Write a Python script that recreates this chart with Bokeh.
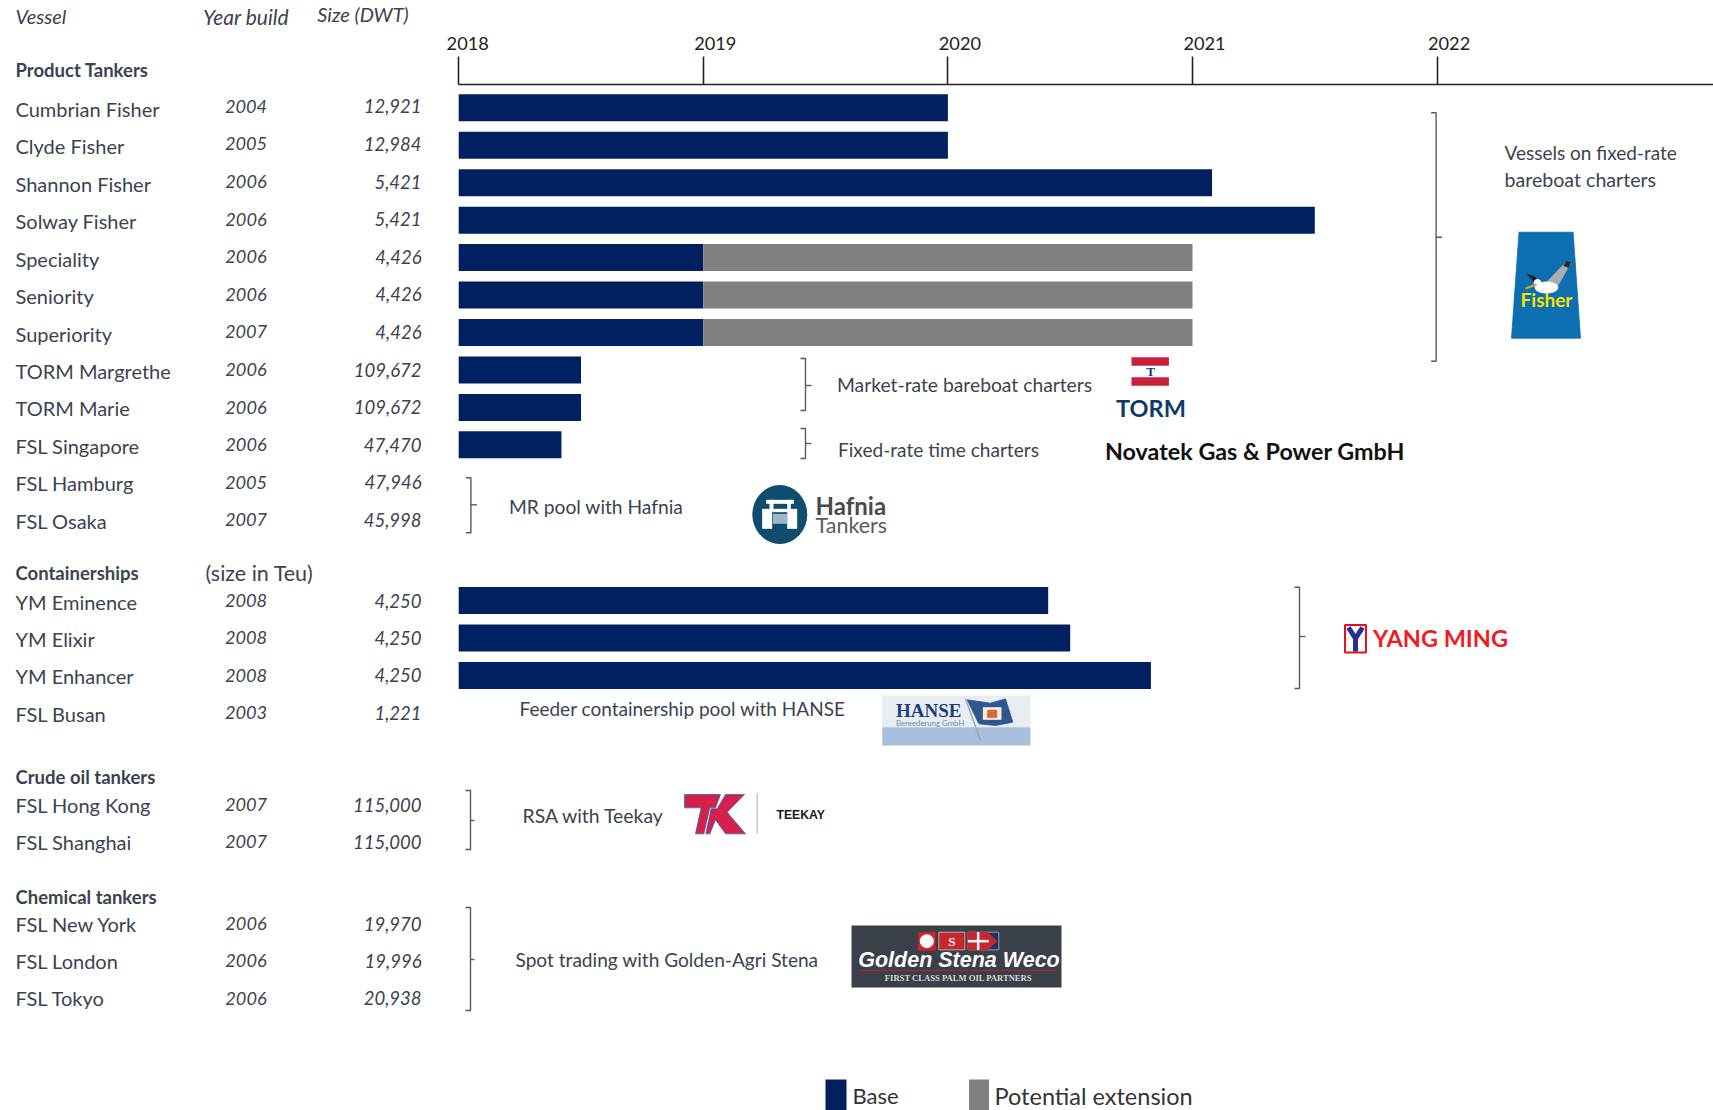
from bokeh.embed import file_html
from bokeh.models import ColumnDataSource, FixedTicker, LinearAxis, Range1d
from bokeh.plotting import figure
from bokeh.resources import INLINE
from bokeh.core.properties import value

# Fleet table
product_names = ["Cumbrian Fisher", "Clyde Fisher", "Shannon Fisher", "Solway Fisher", "Speciality",
                 "Seniority", "Superiority", "TORM Margrethe", "TORM Marie", "FSL Singapore",
                 "FSL Hamburg", "FSL Osaka"]
product_years = ["2004", "2005", "2006", "2006", "2006", "2006", "2007", "2006", "2006", "2006", "2005", "2007"]
product_sizes = ["12,921", "12,984", "5,421", "5,421", "4,426", "4,426", "4,426",
                 "109,672", "109,672", "47,470", "47,946", "45,998"]
container_names = ["YM Eminence", "YM Elixir", "YM Enhancer", "FSL Busan"]
container_years = ["2008", "2008", "2008", "2003"]
container_sizes = ["4,250", "4,250", "4,250", "1,221"]
crude_names = ["FSL Hong Kong", "FSL Shanghai"]
crude_years = ["2007", "2007"]
crude_sizes = ["115,000", "115,000"]
chemical_names = ["FSL New York", "FSL London", "FSL Tokyo"]
chemical_years = ["2006", "2006", "2006"]
chemical_sizes = ["19,970", "19,996", "20,938"]

# Charter periods, in decimal years
product_base_end = [2020.0, 2020.0, 2021.08, 2021.5, 2019.0, 2019.0, 2019.0, 2018.5, 2018.5, 2018.42]
extension_rows = ["Speciality", "Seniority", "Superiority"]
extension_end = [2021.0, 2021.0, 2021.0]
container_base_end = [2020.41, 2020.5, 2020.83]
tick_years = [2018, 2019, 2020, 2021, 2022]

NAVY = "#002060"
GREY = "#808080"
INK = "#3a4350"
FONT = "Lato"

W, H = 1713, 1110
X_2018, PX_PER_YEAR = 458.2, 244.6
ROW = 37.45
PAGE = "page"

p = figure(width=W, height=H, output_backend="svg", toolbar_location=None, min_border=0,
           x_axis_location=None, y_axis_location=None, outline_line_color=None,
           x_range=Range1d(2018 - X_2018 / PX_PER_YEAR, 2018 + (W - X_2018) / PX_PER_YEAR),
           y_range=Range1d(H, 0), background_fill_color="white", border_fill_color="white")
p.grid.visible = False
p.extra_x_ranges[PAGE] = Range1d(0, W)


def label(x, y, s, size=19, color=INK, align="left", style="normal", font=FONT):
    p.text([x], [y], text=[s], x_range_name=PAGE, text_font=value(font), text_font_size=f"{size}px",
           text_color=color, text_align=align, text_baseline="middle", text_font_style=style)


def column(x, ys, texts, size=19, align="left", style="normal"):
    src = ColumnDataSource(dict(x=[x] * len(ys), y=ys, t=texts))
    p.text("x", "y", text="t", source=src, x_range_name=PAGE, text_font=value(FONT),
           text_font_size=f"{size}px", text_color=INK, text_align=align, text_baseline="middle",
           text_font_style=style)


def shape(xs, ys, color, line=None):
    p.patch(xs, ys, x_range_name=PAGE, fill_color=color, line_color=line or color, line_width=0.8)


def local(ox, oy, pts):
    # Logo outlines are written at triple scale relative to the logo's own origin
    return [ox + a / 3 for a, _ in pts], [oy + b / 3 for _, b in pts]


def box(x0, y0, x1, y1, color, line=None, width=1):
    p.quad(left=[x0], right=[x1], top=[y0], bottom=[y1], x_range_name=PAGE, fill_color=color,
           line_color=line, line_width=width)


def bracket(x, top, bottom, mid, hook=5, nub=6):
    p.multi_line([[x - hook, x, x, x - hook], [x, x + nub]], [[top, top, bottom, bottom], [mid, mid]],
                 x_range_name=PAGE, line_color="#5a5a5a", line_width=1.4)


# Table headers and section titles
label(15, 15.5, "Vessel", 20, style="italic")
label(245.5, 15.5, "Year build", 21, align="center", style="italic")
label(362.5, 13.5, "Size (DWT)", 20, align="center", style="italic")
label(15, 69.5, "Product Tankers", 18.5, style="bold")
label(15, 572.5, "Containerships", 18.5, style="bold")
label(205, 572.5, "(size in Teu)", 21.5)
label(15, 776, "Crude oil tankers", 18.5, style="bold")
label(15, 896, "Chemical tankers", 18.5, style="bold")

# Row positions per section
product_rows = [107.3 + i * ROW for i in range(len(product_names))]
container_rows = [600 + i * ROW for i in range(len(container_names))]
crude_rows = [805 + i * ROW for i in range(len(crude_names))]
chemical_rows = [924 + i * ROW for i in range(len(chemical_names))]
product_value_rows = [105.8 + i * 37.6 for i in range(len(product_names))]

for rows, value_rows, names, years, sizes in [
        (product_rows, product_value_rows, product_names, product_years, product_sizes),
        (container_rows, container_rows, container_names, container_years, container_sizes),
        (crude_rows, [r - 1 for r in crude_rows], crude_names, crude_years, crude_sizes),
        (chemical_rows, [r - 1 for r in chemical_rows], chemical_names, chemical_years, chemical_sizes)]:
    name_shift = 1 if rows[0] < 700 else -1
    column(15, [r + name_shift for r in rows], names, 20)
    column(245.5, value_rows, years, 18.2, align="center", style="italic")
    column(421, value_rows, sizes, 18.5, align="right", style="italic")

# Charter bars
bar_rows = product_rows[:len(product_base_end)] + container_rows[:len(container_base_end)]
bar_ends = product_base_end + container_base_end
p.hbar(y=bar_rows, left=[2018] * len(bar_rows), right=bar_ends, height=27, fill_color=NAVY, line_color=None)
ext_rows = [product_rows[product_names.index(n)] for n in extension_rows]
p.hbar(y=ext_rows, left=[2019] * len(ext_rows), right=extension_end, height=27, fill_color=GREY, line_color=None)

# Time axis running along the top of the bars; its year labels sit right of the ticks
axis = LinearAxis(fixed_location=84, ticker=FixedTicker(ticks=tick_years), bounds=(2018, p.x_range.end),
                  axis_line_color="#222222", axis_line_width=1.6, major_tick_line_color="#222222",
                  major_tick_line_width=1.6, major_tick_in=0, major_tick_out=28, minor_tick_out=0, minor_tick_in=0,
                  major_label_overrides={y: "" for y in tick_years})
p.add_layout(axis, "above")
p.text(x=tick_years, y=[42.5] * 5, text=[str(y) for y in tick_years], x_offset=[9, 12, 12, 12, 12],
       text_font=value(FONT), text_font_size="18.2px", text_color="#222222", text_align="center",
       text_baseline="middle")

# Brackets grouping the charter arrangements
bracket(1435.6, 112.3, 360.7, 236.7)
bracket(805, 358, 410, 385)
bracket(805, 428, 458, 443)
bracket(470.4, 477.3, 532.3, 504.3)
bracket(1299, 586.7, 688, 636)
bracket(470, 790, 849, 820, nub=4)
bracket(470, 907, 1010, 959, nub=4)

# Arrangement notes
label(1504, 151.5, "Vessels on fixed-rate", 19)
label(1504, 178.5, "bareboat charters", 19.6)
label(836.5, 383.5, "Market-rate bareboat charters", 19.3)
label(837.5, 449, "Fixed-rate time charters", 19.1)
label(1104.5, 450, "Novatek Gas & Power GmbH", 23.3, color="#111111", style="bold")
label(508.5, 506, "MR pool with Hafnia", 19.2)
label(519, 707.5, "Feeder containership pool with HANSE", 19)
label(522, 815, "RSA with Teekay", 19.4)
label(515, 958.5, "Spot trading with Golden-Agri Stena", 19.1)

# Fisher badge
shape([1518.5, 1572.6, 1580, 1511], [231.7, 231.7, 337.7, 337.7], "#0b6fb0")
shape([1543, 1565, 1570, 1558, 1550], [285, 262, 263, 284, 292], "#a9adb0")
shape([1566, 1570, 1568, 1563], [261, 262, 267, 265], "#2a2a2a")
shape([1527, 1534, 1540, 1535], [274, 276, 283, 283], "#222222")
p.ellipse([1546], [287], width=[23], height=[11], x_range_name=PAGE, fill_color="white", line_color="white")
p.circle([1537], [282.5], radius=[3.5], x_range_name=PAGE, fill_color="white", line_color="white")
p.line([1525, 1536], [288, 284], x_range_name=PAGE, line_color="#d9a441", line_width=2)
label(1546, 299, "Fisher", 19, color="#ffe000", align="center", style="bold")

# TORM mark
box(1131, 356.7, 1168.4, 365.3, "#c8203c")
box(1131, 376.7, 1168.4, 385.3, "#c8203c")
label(1150, 370.5, "T", 13, color="#0e3a68", align="center", style="bold", font="Liberation Serif")
label(1150.5, 407, "TORM", 23.5, color="#0e3a68", align="center", style="bold")

# Hafnia mark
p.ellipse([779.3], [514], width=[54], height=[58], x_range_name=PAGE, fill_color="#0f4c6e", line_color="#0f4c6e")
for a, b, c, d, tone in [(62, 58, 145, 70, "white"), (72, 58, 84, 90, "white"), (125, 58, 136, 90, "white"),
                         (50, 85, 80, 145, "white"), (125, 85, 155, 145, "white"), (80, 85, 125, 95, "white"),
                         (82, 100, 125, 130, "#9fb7c4")]:
    box(745 + a / 3, 480 + b / 3, 745 + c / 3, 480 + d / 3, tone)
label(815, 504.5, "Hafnia", 24, color="#4a4a4a", style="bold")
label(815, 524, "Tankers", 21.5, color="#5a5a5a")

# Yang Ming mark
box(1344.5, 624.5, 1365.5, 652, "white", line="#e8101c", width=2)
p.multi_line([[1348, 1355, 1362], [1355, 1355]], [[627, 638, 627], [638, 651]], x_range_name=PAGE,
             line_color="#2a2f8f", line_width=5)
label(1372.5, 637, "YANG MING", 23.5, color="#ee1c25", style="bold")

# Hanse mark
box(881.7, 695, 1030, 726.7, "#e8edf4")
box(881.7, 726.7, 1030, 745, "#a8c0dc")
label(895.5, 709.5, "HANSE", 19, color="#1d3f77", style="bold", font="Liberation Serif")
label(895.5, 722, "Bereederung GmbH", 7.8, color="#7c8796")
fx, fy = local(875, 690, [(275, 28), (345, 38), (390, 25), (412, 95), (360, 105), (310, 100)])
shape(fx, fy, "#2f568f")
box(875 + 322 / 3, 690 + 50 / 3, 875 + 378 / 3, 690 + 88 / 3, "#f2ece4")
box(875 + 335 / 3, 690 + 58 / 3, 875 + 365 / 3, 690 + 82 / 3, "#d8653c")
fx, fy = local(875, 690, [(270, 25), (315, 150)])
p.line(fx, fy, x_range_name=PAGE, line_color="#98a4b4", line_width=1.4)

# Teekay mark
tx, ty = local(670, 780, [(42, 42), (150, 42), (135, 82), (118, 82), (100, 160), (75, 160), (92, 82), (42, 82)])
shape(tx, ty, "#d81e4a", line="#2a6cb0")
tx, ty = local(670, 780, [(140, 85), (165, 42), (222, 42), (170, 95), (225, 160), (165, 160), (135, 118), (118, 160), (106, 160), (122, 85)])
shape(tx, ty, "#d81e4a", line="#2a6cb0")
p.line([756.7, 756.7], [793, 833], x_range_name=PAGE, line_color="#aaaaaa", line_width=1)
label(776, 814, "TEEKAY", 12.2, color="#1a1a1a", style="bold", font="Liberation Sans")

# Golden Stena Weco mark
box(851, 925, 1061, 987, "#3a4048")
box(845 + 218 / 3, 920 + 35 / 3, 845 + 270 / 3, 920 + 90 / 3, "#d8202a")
p.ellipse([845 + 244 / 3], [920 + 62 / 3], width=[14], height=[14], x_range_name=PAGE, fill_color="white", line_color=None)
box(845 + 280 / 3, 920 + 35 / 3, 845 + 358 / 3, 920 + 88 / 3, "#c8252c", line="#b9a9a9")
box(845 + 367 / 3, 920 + 35 / 3, 845 + 460 / 3, 920 + 88 / 3, "#1c3560", line="#8fa0b8")
fx, fy = local(845, 920, [(367, 35), (425, 35), (455, 62), (425, 88), (367, 88)])
shape(fx, fy, "#c8252c")
p.multi_line([[845 + 398 / 3, 845 + 398 / 3], [845 + 367 / 3, 845 + 430 / 3]],
             [[920 + 35 / 3, 920 + 88 / 3], [920 + 62 / 3, 920 + 62 / 3]], x_range_name=PAGE,
             line_color="white", line_width=2.5)
label(845 + 319 / 3, 940.5, "S", 13, color="white", align="center", style="bold", font="Liberation Serif")
label(958.5, 959.5, "Golden Stena Weco", 21.5, color="white", align="center", style="bold italic", font="Liberation Sans")
p.line([858, 1057], [970, 970], x_range_name=PAGE, line_color="#b82030", line_width=1.2)
label(958, 977.3, "FIRST CLASS PALM OIL PARTNERS", 8.6, color="#d8dadc", align="center", style="bold", font="Liberation Serif")

# Legend along the bottom edge
box(825, 1079, 846, 1110, NAVY)
box(968.5, 1079, 988.5, 1110, GREY)
label(852, 1095, "Base", 22, color="#333333")
label(994, 1095, "Potential extension", 23.5, color="#333333")

open("out.html", "w").write(file_html(p, INLINE))
